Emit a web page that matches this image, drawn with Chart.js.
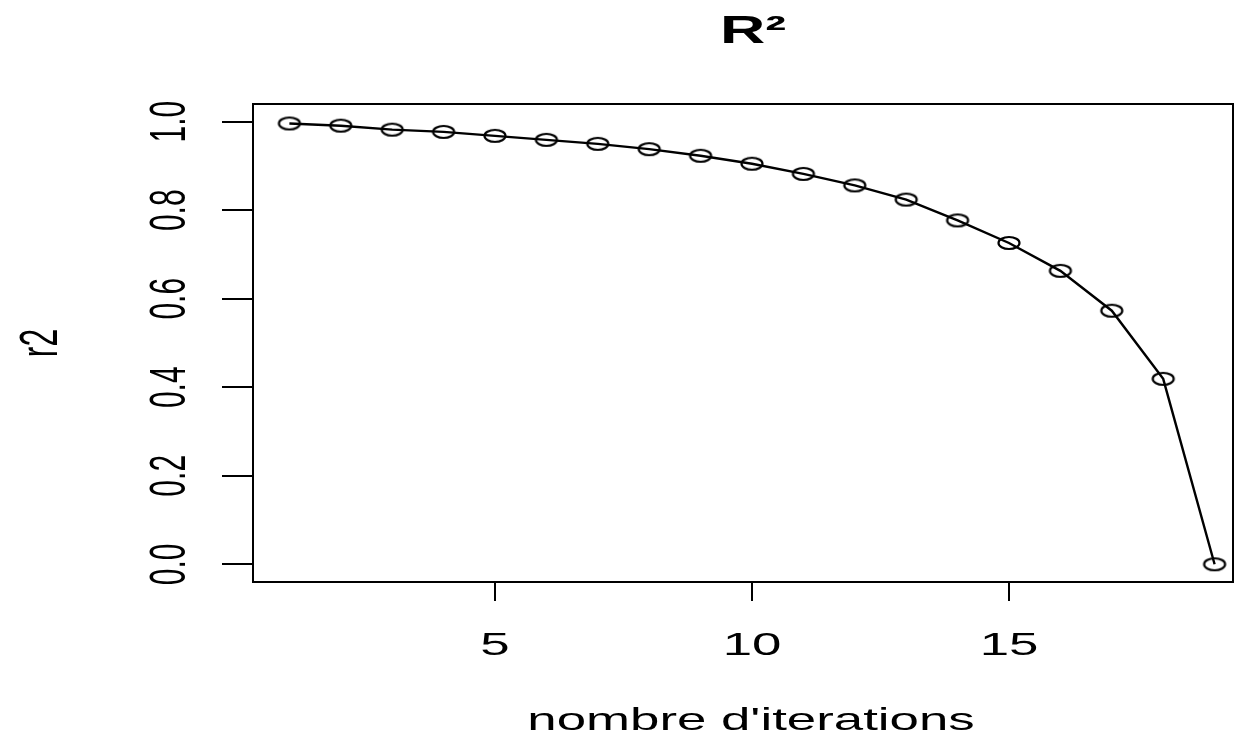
<!DOCTYPE html>
<html>
<head>
<meta charset="utf-8">
<script src="https://cdn.jsdelivr.net/npm/chart.js@4"></script>
<style>
  body { margin: 0; background: #fff; }
  #wrap { width: 1236px; height: 741px; }
</style>
</head>
<body>
<div id="wrap"><canvas id="r2Chart"></canvas></div>
<script>
// iterations and R² values
const iterations = [1, 2, 3, 4, 5, 6, 7, 8, 9, 10, 11, 12, 13, 14, 15, 16, 17, 18, 19];
const r2Values = [0.996, 0.991, 0.982, 0.977, 0.968, 0.959, 0.950, 0.938, 0.923, 0.905,
                  0.882, 0.856, 0.824, 0.777, 0.726, 0.663, 0.573, 0.419, 0.0];
const xTicks = [5, 10, 15];
const xTickLabels = ['5', '10', '15'];
const yTicks = [0, 0.2, 0.4, 0.6, 0.8, 1.0];
const yTickLabels = ['0.0', '0.2', '0.4', '0.6', '0.8', '1.0'];

const SX = 1.65; // the picture is stretched sideways
const FONT = '"Liberation Sans", Arial, sans-serif';

// open ellipse used as point marker
function makeMarker() {
    const c = document.createElement('canvas');
    c.width = 26;
    c.height = 16;
    const g = c.getContext('2d');
    g.strokeStyle = '#000';
    g.lineWidth = 2.2;
    g.beginPath();
    g.ellipse(13, 8, 10.5, 6, 0, 0, Math.PI * 2);
    g.stroke();
    return c;
}

function stretchedText(ctx, text, x, y, rot) {
    ctx.save();
    ctx.translate(x, y);
    ctx.scale(SX, 1);
    ctx.rotate(rot);
    ctx.fillText(text, 0, 0);
    ctx.restore();
}

// box, ticks and labels drawn R style
const rFrame = {
    id: 'rFrame',
    afterDraw(chart) {
        const ctx = chart.ctx;
        const a = chart.chartArea;
        const xs = chart.scales.x;
        const ys = chart.scales.y;
        ctx.save();
        ctx.strokeStyle = '#000';
        ctx.fillStyle = '#000';
        ctx.lineWidth = 2;
        ctx.strokeRect(a.left, a.top, a.right - a.left, a.bottom - a.top);

        // x axis
        ctx.beginPath();
        xTicks.forEach(v => {
            const px = Math.round(xs.getPixelForValue(v));
            ctx.moveTo(px, a.bottom);
            ctx.lineTo(px, a.bottom + 19);
        });
        ctx.stroke();
        ctx.font = '32px ' + FONT;
        ctx.textAlign = 'center';
        ctx.textBaseline = 'alphabetic';
        xTicks.forEach((v, i) => {
            stretchedText(ctx, xTickLabels[i], xs.getPixelForValue(v), 655, 0);
        });

        // y axis
        ctx.beginPath();
        yTicks.forEach(v => {
            const py = Math.round(ys.getPixelForValue(v));
            ctx.moveTo(a.left, py);
            ctx.lineTo(a.left - 31, py);
        });
        ctx.stroke();
        ctx.font = '30px ' + FONT;
        yTicks.forEach((v, i) => {
            stretchedText(ctx, yTickLabels[i], 185, ys.getPixelForValue(v), -Math.PI / 2);
        });

        // titles
        const cx = (a.left + a.right) / 2;
        const cy = (a.top + a.bottom) / 2;
        ctx.font = '32px ' + FONT;
        stretchedText(ctx, "nombre d'iterations", 751, 730, 0);
        stretchedText(ctx, 'r2', 57, cy, -Math.PI / 2);
        ctx.font = 'bold 38px ' + FONT;
        stretchedText(ctx, 'R²', 753, 43, 0);
        ctx.restore();
    }
};

const ctx = document.getElementById('r2Chart').getContext('2d');
const r2Chart = new Chart(ctx, {
    type: 'line',
    data: {
        datasets: [{
            label: 'r2',
            data: iterations.map((it, i) => ({ x: it, y: r2Values[i] })),
            borderColor: '#000',
            borderWidth: 2.4,
            pointStyle: makeMarker(),
            pointRadius: 8,
            fill: false,
            tension: 0
        }]
    },
    options: {
        responsive: true,
        maintainAspectRatio: false,
        devicePixelRatio: 1,
        animation: false,
        layout: {
            autoPadding: false,
            padding: { left: 253, top: 104, right: 3, bottom: 159 }
        },
        plugins: {
            legend: { display: false },
            tooltip: { enabled: false }
        },
        scales: {
            x: { type: 'linear', min: 0.292, max: 19.358, display: false },
            y: { type: 'linear', min: -0.04, max: 1.04, display: false }
        }
    },
    plugins: [rFrame]
});
</script>
</body>
</html>
